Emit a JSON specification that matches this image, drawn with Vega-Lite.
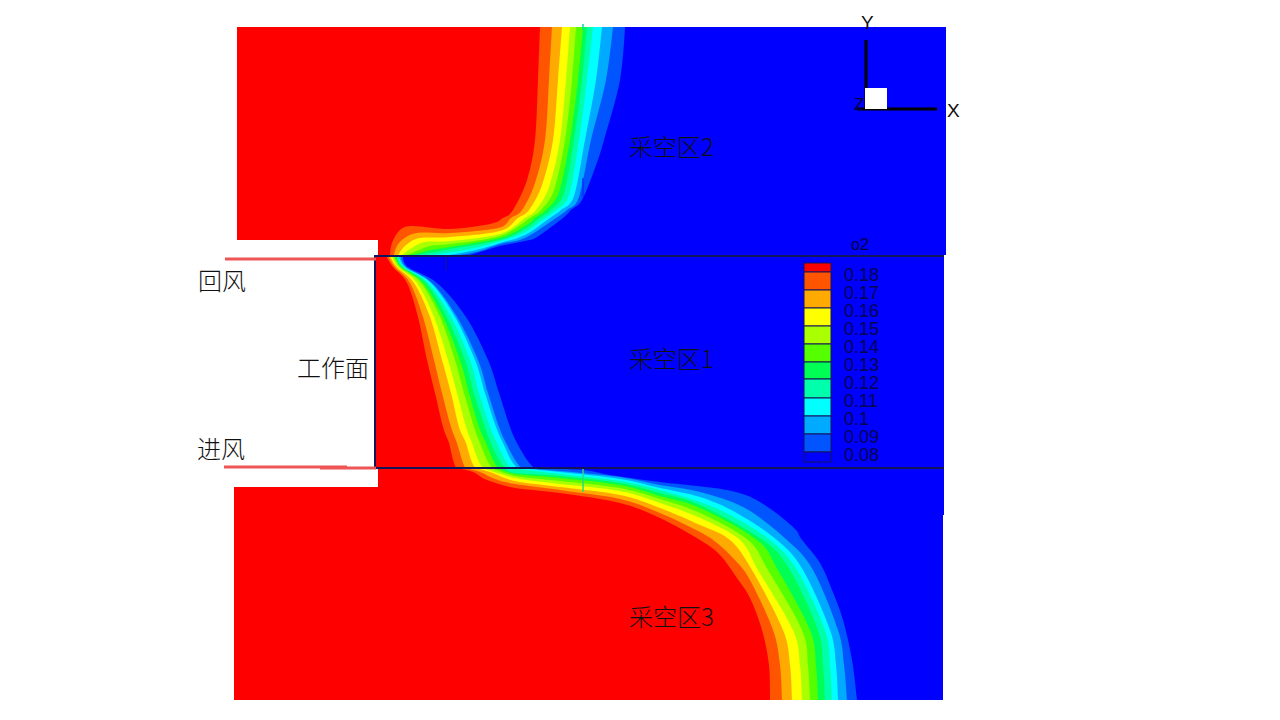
{"$schema":"https://vega.github.io/schema/vega-lite/v6.json","width":1280,"height":720,"padding":0,"autosize":{"type":"none"},"background":"white","config":{"view":{"stroke":null}},
"datasets":{
"outline":[
{"z":0,"o2":0.075,"x":237,"y":27},{"z":0,"o2":0.075,"x":946,"y":27},{"z":0,"o2":0.075,"x":946,"y":255},{"z":0,"o2":0.075,"x":944,"y":255},{"z":0,"o2":0.075,"x":944,"y":515},{"z":0,"o2":0.075,"x":943,"y":515},{"z":0,"o2":0.075,"x":943,"y":700},{"z":0,"o2":0.075,"x":234,"y":700},{"z":0,"o2":0.075,"x":234,"y":487},{"z":0,"o2":0.075,"x":378,"y":487},{"z":0,"o2":0.075,"x":378,"y":468},{"z":0,"o2":0.075,"x":376,"y":468},{"z":0,"o2":0.075,"x":376,"y":256},{"z":0,"o2":0.075,"x":378,"y":256},{"z":0,"o2":0.075,"x":378,"y":240},{"z":0,"o2":0.075,"x":237,"y":240}
],
"blocks":[
{"z":4,"o2":0.185,"x":237,"y":27},{"z":4,"o2":0.185,"x":380,"y":27},{"z":4,"o2":0.185,"x":380,"y":240},{"z":4,"o2":0.185,"x":237,"y":240},
{"z":5,"o2":0.185,"x":234,"y":487},{"z":5,"o2":0.185,"x":380,"y":487},{"z":5,"o2":0.185,"x":380,"y":700},{"z":5,"o2":0.185,"x":234,"y":700}
],
"blank":[
{"x":234,"x2":960,"y":700,"y2":720},{"x":300,"x2":377,"y":469,"y2":487},{"x":300,"x2":375,"y":256,"y2":468}
],
"bands":[
{"z":2,"o2":0.085,"x":625,"y":27},{"z":2,"o2":0.085,"x":620,"y":80},{"z":2,"o2":0.085,"x":604,"y":140},{"z":2,"o2":0.085,"x":595,"y":168},{"z":2,"o2":0.085,"x":582,"y":200},{"z":2,"o2":0.085,"x":571,"y":210},{"z":2,"o2":0.085,"x":563,"y":218},{"z":2,"o2":0.085,"x":537,"y":237},{"z":2,"o2":0.085,"x":525,"y":241},{"z":2,"o2":0.085,"x":500,"y":246},{"z":2,"o2":0.085,"x":477,"y":253},{"z":2,"o2":0.085,"x":470,"y":255},{"z":2,"o2":0.085,"x":470,"y":255},{"z":2,"o2":0.085,"x":378,"y":255},{"z":2,"o2":0.085,"x":378,"y":255},{"z":2,"o2":0.085,"x":378,"y":27},
{"z":2,"o2":0.095,"x":613,"y":27},{"z":2,"o2":0.095,"x":606,"y":80},{"z":2,"o2":0.095,"x":591,"y":140},{"z":2,"o2":0.095,"x":579,"y":197},{"z":2,"o2":0.095,"x":567,"y":210},{"z":2,"o2":0.095,"x":556,"y":218},{"z":2,"o2":0.095,"x":525,"y":238},{"z":2,"o2":0.095,"x":500,"y":244},{"z":2,"o2":0.095,"x":480,"y":251},{"z":2,"o2":0.095,"x":460,"y":255},{"z":2,"o2":0.095,"x":460,"y":255},{"z":2,"o2":0.095,"x":378,"y":255},{"z":2,"o2":0.095,"x":378,"y":255},{"z":2,"o2":0.095,"x":378,"y":27},
{"z":2,"o2":0.105,"x":602,"y":27},{"z":2,"o2":0.105,"x":596,"y":80},{"z":2,"o2":0.105,"x":585,"y":140},{"z":2,"o2":0.105,"x":574,"y":196},{"z":2,"o2":0.105,"x":561,"y":210},{"z":2,"o2":0.105,"x":550,"y":218},{"z":2,"o2":0.105,"x":525,"y":235},{"z":2,"o2":0.105,"x":500,"y":243},{"z":2,"o2":0.105,"x":480,"y":249},{"z":2,"o2":0.105,"x":450,"y":255},{"z":2,"o2":0.105,"x":450,"y":255},{"z":2,"o2":0.105,"x":378,"y":255},{"z":2,"o2":0.105,"x":378,"y":255},{"z":2,"o2":0.105,"x":378,"y":27},
{"z":2,"o2":0.115,"x":593,"y":27},{"z":2,"o2":0.115,"x":587,"y":80},{"z":2,"o2":0.115,"x":579,"y":140},{"z":2,"o2":0.115,"x":569,"y":195},{"z":2,"o2":0.115,"x":556,"y":210},{"z":2,"o2":0.115,"x":545,"y":218},{"z":2,"o2":0.115,"x":525,"y":232},{"z":2,"o2":0.115,"x":500,"y":241},{"z":2,"o2":0.115,"x":470,"y":249},{"z":2,"o2":0.115,"x":440,"y":254},{"z":2,"o2":0.115,"x":425,"y":255},{"z":2,"o2":0.115,"x":425,"y":255},{"z":2,"o2":0.115,"x":378,"y":255},{"z":2,"o2":0.115,"x":378,"y":255},{"z":2,"o2":0.115,"x":378,"y":27},
{"z":2,"o2":0.125,"x":587,"y":27},{"z":2,"o2":0.125,"x":582,"y":80},{"z":2,"o2":0.125,"x":574,"y":140},{"z":2,"o2":0.125,"x":564,"y":193},{"z":2,"o2":0.125,"x":551,"y":210},{"z":2,"o2":0.125,"x":540,"y":218},{"z":2,"o2":0.125,"x":525,"y":229},{"z":2,"o2":0.125,"x":500,"y":240},{"z":2,"o2":0.125,"x":450,"y":249},{"z":2,"o2":0.125,"x":435,"y":252},{"z":2,"o2":0.125,"x":415,"y":255},{"z":2,"o2":0.125,"x":415,"y":255},{"z":2,"o2":0.125,"x":378,"y":255},{"z":2,"o2":0.125,"x":378,"y":255},{"z":2,"o2":0.125,"x":378,"y":27},
{"z":2,"o2":0.135,"x":583,"y":27},{"z":2,"o2":0.135,"x":578,"y":80},{"z":2,"o2":0.135,"x":570,"y":140},{"z":2,"o2":0.135,"x":559,"y":192},{"z":2,"o2":0.135,"x":546,"y":210},{"z":2,"o2":0.135,"x":535,"y":218},{"z":2,"o2":0.135,"x":525,"y":226},{"z":2,"o2":0.135,"x":500,"y":238},{"z":2,"o2":0.135,"x":450,"y":247},{"z":2,"o2":0.135,"x":430,"y":250},{"z":2,"o2":0.135,"x":420,"y":253},{"z":2,"o2":0.135,"x":410,"y":255},{"z":2,"o2":0.135,"x":410,"y":255},{"z":2,"o2":0.135,"x":378,"y":255},{"z":2,"o2":0.135,"x":378,"y":255},{"z":2,"o2":0.135,"x":378,"y":27},
{"z":2,"o2":0.145,"x":576,"y":27},{"z":2,"o2":0.145,"x":572,"y":80},{"z":2,"o2":0.145,"x":565,"y":140},{"z":2,"o2":0.145,"x":554,"y":190},{"z":2,"o2":0.145,"x":541,"y":210},{"z":2,"o2":0.145,"x":530,"y":218},{"z":2,"o2":0.145,"x":500,"y":236},{"z":2,"o2":0.145,"x":450,"y":244},{"z":2,"o2":0.145,"x":430,"y":246},{"z":2,"o2":0.145,"x":414,"y":252},{"z":2,"o2":0.145,"x":406,"y":255},{"z":2,"o2":0.145,"x":406,"y":255},{"z":2,"o2":0.145,"x":378,"y":255},{"z":2,"o2":0.145,"x":378,"y":255},{"z":2,"o2":0.145,"x":378,"y":27},
{"z":2,"o2":0.155,"x":570,"y":27},{"z":2,"o2":0.155,"x":566,"y":80},{"z":2,"o2":0.155,"x":560,"y":140},{"z":2,"o2":0.155,"x":549,"y":187},{"z":2,"o2":0.155,"x":536,"y":210},{"z":2,"o2":0.155,"x":525,"y":218},{"z":2,"o2":0.155,"x":500,"y":234},{"z":2,"o2":0.155,"x":450,"y":241},{"z":2,"o2":0.155,"x":425,"y":242},{"z":2,"o2":0.155,"x":410,"y":249},{"z":2,"o2":0.155,"x":402,"y":255},{"z":2,"o2":0.155,"x":402,"y":255},{"z":2,"o2":0.155,"x":378,"y":255},{"z":2,"o2":0.155,"x":378,"y":255},{"z":2,"o2":0.155,"x":378,"y":27},
{"z":2,"o2":0.165,"x":562,"y":27},{"z":2,"o2":0.165,"x":558,"y":80},{"z":2,"o2":0.165,"x":553,"y":140},{"z":2,"o2":0.165,"x":542,"y":185},{"z":2,"o2":0.165,"x":529,"y":210},{"z":2,"o2":0.165,"x":518,"y":218},{"z":2,"o2":0.165,"x":500,"y":231},{"z":2,"o2":0.165,"x":450,"y":237},{"z":2,"o2":0.165,"x":420,"y":238},{"z":2,"o2":0.165,"x":406,"y":245},{"z":2,"o2":0.165,"x":398,"y":255},{"z":2,"o2":0.165,"x":398,"y":255},{"z":2,"o2":0.165,"x":378,"y":255},{"z":2,"o2":0.165,"x":378,"y":255},{"z":2,"o2":0.165,"x":378,"y":27},
{"z":2,"o2":0.175,"x":552,"y":27},{"z":2,"o2":0.175,"x":549,"y":80},{"z":2,"o2":0.175,"x":545,"y":140},{"z":2,"o2":0.175,"x":535,"y":183},{"z":2,"o2":0.175,"x":522,"y":210},{"z":2,"o2":0.175,"x":511,"y":218},{"z":2,"o2":0.175,"x":498,"y":228},{"z":2,"o2":0.175,"x":450,"y":233},{"z":2,"o2":0.175,"x":417,"y":233},{"z":2,"o2":0.175,"x":402,"y":240},{"z":2,"o2":0.175,"x":396,"y":248},{"z":2,"o2":0.175,"x":394,"y":255},{"z":2,"o2":0.175,"x":394,"y":255},{"z":2,"o2":0.175,"x":378,"y":255},{"z":2,"o2":0.175,"x":378,"y":255},{"z":2,"o2":0.175,"x":378,"y":27},
{"z":2,"o2":0.185,"x":540,"y":27},{"z":2,"o2":0.185,"x":538,"y":80},{"z":2,"o2":0.185,"x":535,"y":140},{"z":2,"o2":0.185,"x":527,"y":180},{"z":2,"o2":0.185,"x":513,"y":210},{"z":2,"o2":0.185,"x":503,"y":218},{"z":2,"o2":0.185,"x":490,"y":224},{"z":2,"o2":0.185,"x":450,"y":229},{"z":2,"o2":0.185,"x":413,"y":226},{"z":2,"o2":0.185,"x":400,"y":230},{"z":2,"o2":0.185,"x":392,"y":243},{"z":2,"o2":0.185,"x":390,"y":255},{"z":2,"o2":0.185,"x":390,"y":255},{"z":2,"o2":0.185,"x":378,"y":255},{"z":2,"o2":0.185,"x":378,"y":255},{"z":2,"o2":0.185,"x":378,"y":27},
{"z":1,"o2":0.085,"x":403,"y":256},{"z":1,"o2":0.085,"x":408,"y":267},{"z":1,"o2":0.085,"x":437,"y":283},{"z":1,"o2":0.085,"x":466,"y":317},{"z":1,"o2":0.085,"x":488,"y":360},{"z":1,"o2":0.085,"x":499,"y":393},{"z":1,"o2":0.085,"x":510,"y":427},{"z":1,"o2":0.085,"x":517,"y":443},{"z":1,"o2":0.085,"x":527,"y":460},{"z":1,"o2":0.085,"x":534,"y":468},{"z":1,"o2":0.085,"x":534,"y":468},{"z":1,"o2":0.085,"x":376,"y":468},{"z":1,"o2":0.085,"x":376,"y":468},{"z":1,"o2":0.085,"x":376,"y":256},
{"z":1,"o2":0.095,"x":401,"y":256},{"z":1,"o2":0.095,"x":406,"y":267},{"z":1,"o2":0.095,"x":432,"y":283},{"z":1,"o2":0.095,"x":457,"y":317},{"z":1,"o2":0.095,"x":478,"y":360},{"z":1,"o2":0.095,"x":488,"y":393},{"z":1,"o2":0.095,"x":499,"y":427},{"z":1,"o2":0.095,"x":506,"y":443},{"z":1,"o2":0.095,"x":515,"y":460},{"z":1,"o2":0.095,"x":521,"y":468},{"z":1,"o2":0.095,"x":521,"y":468},{"z":1,"o2":0.095,"x":376,"y":468},{"z":1,"o2":0.095,"x":376,"y":468},{"z":1,"o2":0.095,"x":376,"y":256},
{"z":1,"o2":0.105,"x":399,"y":256},{"z":1,"o2":0.105,"x":405,"y":267},{"z":1,"o2":0.105,"x":431,"y":283},{"z":1,"o2":0.105,"x":455,"y":317},{"z":1,"o2":0.105,"x":475,"y":360},{"z":1,"o2":0.105,"x":485,"y":393},{"z":1,"o2":0.105,"x":496,"y":427},{"z":1,"o2":0.105,"x":503,"y":443},{"z":1,"o2":0.105,"x":511,"y":460},{"z":1,"o2":0.105,"x":517,"y":468},{"z":1,"o2":0.105,"x":517,"y":468},{"z":1,"o2":0.105,"x":376,"y":468},{"z":1,"o2":0.105,"x":376,"y":468},{"z":1,"o2":0.105,"x":376,"y":256},
{"z":1,"o2":0.115,"x":398,"y":256},{"z":1,"o2":0.115,"x":404,"y":267},{"z":1,"o2":0.115,"x":428,"y":283},{"z":1,"o2":0.115,"x":451,"y":317},{"z":1,"o2":0.115,"x":470,"y":360},{"z":1,"o2":0.115,"x":479,"y":393},{"z":1,"o2":0.115,"x":490,"y":427},{"z":1,"o2":0.115,"x":497,"y":443},{"z":1,"o2":0.115,"x":505,"y":460},{"z":1,"o2":0.115,"x":511,"y":468},{"z":1,"o2":0.115,"x":511,"y":468},{"z":1,"o2":0.115,"x":376,"y":468},{"z":1,"o2":0.115,"x":376,"y":468},{"z":1,"o2":0.115,"x":376,"y":256},
{"z":1,"o2":0.125,"x":397,"y":256},{"z":1,"o2":0.125,"x":402,"y":267},{"z":1,"o2":0.125,"x":426,"y":283},{"z":1,"o2":0.125,"x":447,"y":317},{"z":1,"o2":0.125,"x":465,"y":360},{"z":1,"o2":0.125,"x":474,"y":393},{"z":1,"o2":0.125,"x":485,"y":427},{"z":1,"o2":0.125,"x":491,"y":443},{"z":1,"o2":0.125,"x":499,"y":460},{"z":1,"o2":0.125,"x":505,"y":468},{"z":1,"o2":0.125,"x":505,"y":468},{"z":1,"o2":0.125,"x":376,"y":468},{"z":1,"o2":0.125,"x":376,"y":468},{"z":1,"o2":0.125,"x":376,"y":256},
{"z":1,"o2":0.135,"x":395,"y":256},{"z":1,"o2":0.135,"x":401,"y":267},{"z":1,"o2":0.135,"x":423,"y":283},{"z":1,"o2":0.135,"x":443,"y":317},{"z":1,"o2":0.135,"x":460,"y":360},{"z":1,"o2":0.135,"x":469,"y":393},{"z":1,"o2":0.135,"x":479,"y":427},{"z":1,"o2":0.135,"x":486,"y":443},{"z":1,"o2":0.135,"x":493,"y":460},{"z":1,"o2":0.135,"x":498,"y":468},{"z":1,"o2":0.135,"x":498,"y":468},{"z":1,"o2":0.135,"x":376,"y":468},{"z":1,"o2":0.135,"x":376,"y":468},{"z":1,"o2":0.135,"x":376,"y":256},
{"z":1,"o2":0.145,"x":394,"y":256},{"z":1,"o2":0.145,"x":400,"y":267},{"z":1,"o2":0.145,"x":421,"y":283},{"z":1,"o2":0.145,"x":440,"y":317},{"z":1,"o2":0.145,"x":455,"y":360},{"z":1,"o2":0.145,"x":464,"y":393},{"z":1,"o2":0.145,"x":474,"y":427},{"z":1,"o2":0.145,"x":480,"y":443},{"z":1,"o2":0.145,"x":487,"y":460},{"z":1,"o2":0.145,"x":492,"y":468},{"z":1,"o2":0.145,"x":492,"y":468},{"z":1,"o2":0.145,"x":376,"y":468},{"z":1,"o2":0.145,"x":376,"y":468},{"z":1,"o2":0.145,"x":376,"y":256},
{"z":1,"o2":0.155,"x":392,"y":256},{"z":1,"o2":0.155,"x":398,"y":267},{"z":1,"o2":0.155,"x":417,"y":283},{"z":1,"o2":0.155,"x":434,"y":317},{"z":1,"o2":0.155,"x":448,"y":360},{"z":1,"o2":0.155,"x":457,"y":393},{"z":1,"o2":0.155,"x":466,"y":427},{"z":1,"o2":0.155,"x":472,"y":443},{"z":1,"o2":0.155,"x":478,"y":460},{"z":1,"o2":0.155,"x":483,"y":468},{"z":1,"o2":0.155,"x":483,"y":468},{"z":1,"o2":0.155,"x":376,"y":468},{"z":1,"o2":0.155,"x":376,"y":468},{"z":1,"o2":0.155,"x":376,"y":256},
{"z":1,"o2":0.165,"x":390,"y":256},{"z":1,"o2":0.165,"x":397,"y":267},{"z":1,"o2":0.165,"x":414,"y":283},{"z":1,"o2":0.165,"x":430,"y":317},{"z":1,"o2":0.165,"x":442,"y":360},{"z":1,"o2":0.165,"x":451,"y":393},{"z":1,"o2":0.165,"x":459,"y":427},{"z":1,"o2":0.165,"x":466,"y":443},{"z":1,"o2":0.165,"x":471,"y":460},{"z":1,"o2":0.165,"x":475,"y":468},{"z":1,"o2":0.165,"x":475,"y":468},{"z":1,"o2":0.165,"x":376,"y":468},{"z":1,"o2":0.165,"x":376,"y":468},{"z":1,"o2":0.165,"x":376,"y":256},
{"z":1,"o2":0.175,"x":388,"y":256},{"z":1,"o2":0.175,"x":395,"y":267},{"z":1,"o2":0.175,"x":410,"y":283},{"z":1,"o2":0.175,"x":423,"y":317},{"z":1,"o2":0.175,"x":434,"y":360},{"z":1,"o2":0.175,"x":442,"y":393},{"z":1,"o2":0.175,"x":451,"y":427},{"z":1,"o2":0.175,"x":457,"y":443},{"z":1,"o2":0.175,"x":462,"y":460},{"z":1,"o2":0.175,"x":465,"y":468},{"z":1,"o2":0.175,"x":465,"y":468},{"z":1,"o2":0.175,"x":376,"y":468},{"z":1,"o2":0.175,"x":376,"y":468},{"z":1,"o2":0.175,"x":376,"y":256},
{"z":1,"o2":0.185,"x":386,"y":256},{"z":1,"o2":0.185,"x":393,"y":267},{"z":1,"o2":0.185,"x":407,"y":283},{"z":1,"o2":0.185,"x":418,"y":317},{"z":1,"o2":0.185,"x":427,"y":360},{"z":1,"o2":0.185,"x":435,"y":393},{"z":1,"o2":0.185,"x":443,"y":427},{"z":1,"o2":0.185,"x":449,"y":443},{"z":1,"o2":0.185,"x":453,"y":460},{"z":1,"o2":0.185,"x":456,"y":468},{"z":1,"o2":0.185,"x":456,"y":468},{"z":1,"o2":0.185,"x":376,"y":468},{"z":1,"o2":0.185,"x":376,"y":468},{"z":1,"o2":0.185,"x":376,"y":256},
{"z":3,"o2":0.085,"x":534,"y":468},{"z":3,"o2":0.085,"x":583,"y":470},{"z":3,"o2":0.085,"x":610,"y":475},{"z":3,"o2":0.085,"x":660,"y":482},{"z":3,"o2":0.085,"x":727,"y":490},{"z":3,"o2":0.085,"x":760,"y":502},{"z":3,"o2":0.085,"x":793,"y":527},{"z":3,"o2":0.085,"x":802,"y":540},{"z":3,"o2":0.085,"x":820,"y":563},{"z":3,"o2":0.085,"x":832,"y":590},{"z":3,"o2":0.085,"x":843,"y":620},{"z":3,"o2":0.085,"x":852,"y":660},{"z":3,"o2":0.085,"x":857,"y":700},{"z":3,"o2":0.085,"x":857,"y":700},{"z":3,"o2":0.085,"x":378,"y":700},{"z":3,"o2":0.085,"x":378,"y":700},{"z":3,"o2":0.085,"x":378,"y":468},
{"z":3,"o2":0.095,"x":521,"y":468},{"z":3,"o2":0.095,"x":560,"y":471},{"z":3,"o2":0.095,"x":620,"y":477},{"z":3,"o2":0.095,"x":660,"y":485},{"z":3,"o2":0.095,"x":700,"y":492},{"z":3,"o2":0.095,"x":745,"y":508},{"z":3,"o2":0.095,"x":787,"y":540},{"z":3,"o2":0.095,"x":813,"y":570},{"z":3,"o2":0.095,"x":838,"y":630},{"z":3,"o2":0.095,"x":844,"y":665},{"z":3,"o2":0.095,"x":847,"y":700},{"z":3,"o2":0.095,"x":847,"y":700},{"z":3,"o2":0.095,"x":378,"y":700},{"z":3,"o2":0.095,"x":378,"y":700},{"z":3,"o2":0.095,"x":378,"y":468},
{"z":3,"o2":0.105,"x":517,"y":468},{"z":3,"o2":0.105,"x":560,"y":472},{"z":3,"o2":0.105,"x":620,"y":479},{"z":3,"o2":0.105,"x":660,"y":488},{"z":3,"o2":0.105,"x":700,"y":497},{"z":3,"o2":0.105,"x":735,"y":512},{"z":3,"o2":0.105,"x":777,"y":540},{"z":3,"o2":0.105,"x":803,"y":570},{"z":3,"o2":0.105,"x":830,"y":630},{"z":3,"o2":0.105,"x":836,"y":665},{"z":3,"o2":0.105,"x":838,"y":700},{"z":3,"o2":0.105,"x":838,"y":700},{"z":3,"o2":0.105,"x":378,"y":700},{"z":3,"o2":0.105,"x":378,"y":700},{"z":3,"o2":0.105,"x":378,"y":468},
{"z":3,"o2":0.115,"x":511,"y":468},{"z":3,"o2":0.115,"x":560,"y":474},{"z":3,"o2":0.115,"x":620,"y":481},{"z":3,"o2":0.115,"x":660,"y":490},{"z":3,"o2":0.115,"x":700,"y":502},{"z":3,"o2":0.115,"x":730,"y":515},{"z":3,"o2":0.115,"x":770,"y":540},{"z":3,"o2":0.115,"x":797,"y":570},{"z":3,"o2":0.115,"x":825,"y":630},{"z":3,"o2":0.115,"x":830,"y":665},{"z":3,"o2":0.115,"x":832,"y":700},{"z":3,"o2":0.115,"x":832,"y":700},{"z":3,"o2":0.115,"x":378,"y":700},{"z":3,"o2":0.115,"x":378,"y":700},{"z":3,"o2":0.115,"x":378,"y":468},
{"z":3,"o2":0.125,"x":505,"y":468},{"z":3,"o2":0.125,"x":515,"y":473},{"z":3,"o2":0.125,"x":560,"y":476},{"z":3,"o2":0.125,"x":620,"y":483},{"z":3,"o2":0.125,"x":660,"y":493},{"z":3,"o2":0.125,"x":700,"y":505},{"z":3,"o2":0.125,"x":763,"y":540},{"z":3,"o2":0.125,"x":790,"y":570},{"z":3,"o2":0.125,"x":818,"y":630},{"z":3,"o2":0.125,"x":823,"y":665},{"z":3,"o2":0.125,"x":825,"y":700},{"z":3,"o2":0.125,"x":825,"y":700},{"z":3,"o2":0.125,"x":378,"y":700},{"z":3,"o2":0.125,"x":378,"y":700},{"z":3,"o2":0.125,"x":378,"y":468},
{"z":3,"o2":0.135,"x":498,"y":468},{"z":3,"o2":0.135,"x":515,"y":474},{"z":3,"o2":0.135,"x":560,"y":478},{"z":3,"o2":0.135,"x":620,"y":485},{"z":3,"o2":0.135,"x":660,"y":496},{"z":3,"o2":0.135,"x":700,"y":508},{"z":3,"o2":0.135,"x":757,"y":540},{"z":3,"o2":0.135,"x":778,"y":570},{"z":3,"o2":0.135,"x":810,"y":630},{"z":3,"o2":0.135,"x":816,"y":665},{"z":3,"o2":0.135,"x":818,"y":700},{"z":3,"o2":0.135,"x":818,"y":700},{"z":3,"o2":0.135,"x":378,"y":700},{"z":3,"o2":0.135,"x":378,"y":700},{"z":3,"o2":0.135,"x":378,"y":468},
{"z":3,"o2":0.145,"x":492,"y":468},{"z":3,"o2":0.145,"x":515,"y":476},{"z":3,"o2":0.145,"x":560,"y":481},{"z":3,"o2":0.145,"x":620,"y":488},{"z":3,"o2":0.145,"x":660,"y":499},{"z":3,"o2":0.145,"x":700,"y":513},{"z":3,"o2":0.145,"x":748,"y":540},{"z":3,"o2":0.145,"x":768,"y":570},{"z":3,"o2":0.145,"x":802,"y":630},{"z":3,"o2":0.145,"x":808,"y":665},{"z":3,"o2":0.145,"x":810,"y":700},{"z":3,"o2":0.145,"x":810,"y":700},{"z":3,"o2":0.145,"x":378,"y":700},{"z":3,"o2":0.145,"x":378,"y":700},{"z":3,"o2":0.145,"x":378,"y":468},
{"z":3,"o2":0.155,"x":483,"y":468},{"z":3,"o2":0.155,"x":515,"y":478},{"z":3,"o2":0.155,"x":560,"y":484},{"z":3,"o2":0.155,"x":620,"y":491},{"z":3,"o2":0.155,"x":660,"y":503},{"z":3,"o2":0.155,"x":700,"y":518},{"z":3,"o2":0.155,"x":740,"y":540},{"z":3,"o2":0.155,"x":758,"y":570},{"z":3,"o2":0.155,"x":793,"y":630},{"z":3,"o2":0.155,"x":800,"y":665},{"z":3,"o2":0.155,"x":802,"y":700},{"z":3,"o2":0.155,"x":802,"y":700},{"z":3,"o2":0.155,"x":378,"y":700},{"z":3,"o2":0.155,"x":378,"y":700},{"z":3,"o2":0.155,"x":378,"y":468},
{"z":3,"o2":0.165,"x":475,"y":468},{"z":3,"o2":0.165,"x":490,"y":472},{"z":3,"o2":0.165,"x":515,"y":481},{"z":3,"o2":0.165,"x":560,"y":487},{"z":3,"o2":0.165,"x":620,"y":495},{"z":3,"o2":0.165,"x":660,"y":508},{"z":3,"o2":0.165,"x":700,"y":525},{"z":3,"o2":0.165,"x":730,"y":540},{"z":3,"o2":0.165,"x":752,"y":570},{"z":3,"o2":0.165,"x":783,"y":630},{"z":3,"o2":0.165,"x":790,"y":665},{"z":3,"o2":0.165,"x":792,"y":700},{"z":3,"o2":0.165,"x":792,"y":700},{"z":3,"o2":0.165,"x":378,"y":700},{"z":3,"o2":0.165,"x":378,"y":700},{"z":3,"o2":0.165,"x":378,"y":468},
{"z":3,"o2":0.175,"x":465,"y":468},{"z":3,"o2":0.175,"x":480,"y":472},{"z":3,"o2":0.175,"x":495,"y":479},{"z":3,"o2":0.175,"x":515,"y":484},{"z":3,"o2":0.175,"x":560,"y":490},{"z":3,"o2":0.175,"x":620,"y":499},{"z":3,"o2":0.175,"x":660,"y":513},{"z":3,"o2":0.175,"x":700,"y":532},{"z":3,"o2":0.175,"x":717,"y":543},{"z":3,"o2":0.175,"x":735,"y":560},{"z":3,"o2":0.175,"x":750,"y":580},{"z":3,"o2":0.175,"x":773,"y":630},{"z":3,"o2":0.175,"x":780,"y":665},{"z":3,"o2":0.175,"x":782,"y":700},{"z":3,"o2":0.175,"x":782,"y":700},{"z":3,"o2":0.175,"x":378,"y":700},{"z":3,"o2":0.175,"x":378,"y":700},{"z":3,"o2":0.175,"x":378,"y":468},
{"z":3,"o2":0.185,"x":456,"y":468},{"z":3,"o2":0.185,"x":473,"y":472},{"z":3,"o2":0.185,"x":487,"y":480},{"z":3,"o2":0.185,"x":515,"y":488},{"z":3,"o2":0.185,"x":560,"y":493},{"z":3,"o2":0.185,"x":620,"y":503},{"z":3,"o2":0.185,"x":660,"y":518},{"z":3,"o2":0.185,"x":700,"y":540},{"z":3,"o2":0.185,"x":720,"y":555},{"z":3,"o2":0.185,"x":737,"y":578},{"z":3,"o2":0.185,"x":750,"y":598},{"z":3,"o2":0.185,"x":762,"y":630},{"z":3,"o2":0.185,"x":769,"y":665},{"z":3,"o2":0.185,"x":770,"y":700},{"z":3,"o2":0.185,"x":770,"y":700},{"z":3,"o2":0.185,"x":378,"y":700},{"z":3,"o2":0.185,"x":378,"y":700},{"z":3,"o2":0.185,"x":378,"y":468}
],
"key":[
{"o2":0.185,"x":804,"x2":831,"y":263,"y2":272},{"o2":0.175,"x":804,"x2":831,"y":272,"y2":290},{"o2":0.165,"x":804,"x2":831,"y":290,"y2":308},{"o2":0.155,"x":804,"x2":831,"y":308,"y2":326},{"o2":0.145,"x":804,"x2":831,"y":326,"y2":344},{"o2":0.135,"x":804,"x2":831,"y":344,"y2":362},{"o2":0.125,"x":804,"x2":831,"y":362,"y2":379},{"o2":0.115,"x":804,"x2":831,"y":379,"y2":398},{"o2":0.105,"x":804,"x2":831,"y":398,"y2":416},{"o2":0.095,"x":804,"x2":831,"y":416,"y2":434},{"o2":0.085,"x":804,"x2":831,"y":434,"y2":452},{"o2":0.075,"x":804,"x2":831,"y":452,"y2":462}
],
"keyLabels":[
{"t":"0.18","x":844,"y":276},{"t":"0.17","x":844,"y":294},{"t":"0.16","x":844,"y":312},{"t":"0.15","x":844,"y":330},{"t":"0.14","x":844,"y":348},{"t":"0.13","x":844,"y":366},{"t":"0.12","x":844,"y":384},{"t":"0.11","x":844,"y":402},{"t":"0.1","x":844,"y":420},{"t":"0.09","x":844,"y":438},{"t":"0.08","x":844,"y":456}
],
"frame":[
{"x":375,"x2":375,"y":255,"y2":468},{"x":375,"x2":944,"y":256,"y2":256},{"x":375,"x2":944,"y":468,"y2":468}
],
"airways":[
{"x":225,"x2":376,"y":259,"y2":259},{"x":224,"x2":347,"y":467,"y2":467},{"x":320,"x2":376,"y":468,"y2":468}
],
"seams":[
{"s":"a","x":583,"y":469,"y2":492},{"s":"b","x":583,"y":24,"y2":30},{"s":"c","x":583,"y":178,"y2":197},{"s":"d","x":446,"y":257,"y2":270}
],
"triad":[
{"x":866,"x2":866,"y":40,"y2":110},{"x":857,"x2":937,"y":109,"y2":109}
],
"square":[{"x":865,"x2":887,"y":88,"y2":109}],
"zones":[
{"t":"采空区2","x":629,"y":149},{"t":"采空区1","x":629,"y":361},{"t":"采空区3","x":629,"y":619},{"t":"回风","x":198,"y":283},{"t":"工作面","x":297,"y":370},{"t":"进风","x":197,"y":451}
],
"axisNames":[{"t":"Y","x":861,"y":23},{"t":"X","x":947,"y":111}]
},
"encoding":{
"x":{"field":"x","type":"quantitative","scale":{"domain":[0,1280],"nice":false,"zero":false},"axis":null},
"y":{"field":"y","type":"quantitative","scale":{"domain":[720,0],"nice":false,"zero":false},"axis":null}
},
"layer":[
{"data":{"name":"outline"},"mark":{"type":"line","filled":true,"strokeWidth":0,"order":null},"encoding":{"detail":{"field":"z"},"fill":{"field":"o2","type":"ordinal","legend":null,"scale":{"domain":[0.185,0.175,0.165,0.155,0.145,0.135,0.125,0.115,0.105,0.095,0.085,0.075],"range":["#ff0000","#ff5500","#ffaa00","#ffff00","#aaff00","#55ff00","#00ff55","#00ffaa","#00ffff","#00aaff","#0055ff","#0000ff"]}}}},
{"data":{"name":"bands"},"mark":{"type":"line","filled":true,"strokeWidth":0,"order":null,"interpolate":"cardinal"},"encoding":{"detail":{"field":"z"},"fill":{"field":"o2","type":"ordinal","legend":null,"scale":{"domain":[0.185,0.175,0.165,0.155,0.145,0.135,0.125,0.115,0.105,0.095,0.085,0.075],"range":["#ff0000","#ff5500","#ffaa00","#ffff00","#aaff00","#55ff00","#00ff55","#00ffaa","#00ffff","#00aaff","#0055ff","#0000ff"]}}}},
{"data":{"name":"blank"},"mark":{"type":"rect","fill":"#ffffff"},"encoding":{"x2":{"field":"x2"},"y2":{"field":"y2"}}},
{"data":{"name":"blocks"},"mark":{"type":"line","filled":true,"strokeWidth":0,"order":null},"encoding":{"detail":{"field":"z"},"fill":{"field":"o2","type":"ordinal","legend":null,"scale":{"domain":[0.185,0.175,0.165,0.155,0.145,0.135,0.125,0.115,0.105,0.095,0.085,0.075],"range":["#ff0000","#ff5500","#ffaa00","#ffff00","#aaff00","#55ff00","#00ff55","#00ffaa","#00ffff","#00aaff","#0055ff","#0000ff"]}}}},
{"data":{"name":"seams"},"mark":{"type":"rule","strokeWidth":1.5},"encoding":{"y2":{"field":"y2"},"color":{"field":"s","type":"nominal","legend":null,"scale":{"domain":["a","b","c","d"],"range":["#22dd88","#00e0a0","#0033ff","#1010a0"]}}}},
{"data":{"name":"frame"},"mark":{"type":"rule","color":"#14145a","strokeWidth":2},"encoding":{"x2":{"field":"x2"},"y2":{"field":"y2"}}},
{"data":{"name":"airways"},"mark":{"type":"rule","color":"#ee5555","strokeWidth":3},"encoding":{"x2":{"field":"x2"},"y2":{"field":"y2"}}},
{"data":{"name":"key"},"mark":{"type":"rect","stroke":"#14145a","strokeWidth":1},"encoding":{"x2":{"field":"x2"},"y2":{"field":"y2"},"fill":{"field":"o2","type":"ordinal","legend":null,"scale":{"domain":[0.185,0.175,0.165,0.155,0.145,0.135,0.125,0.115,0.105,0.095,0.085,0.075],"range":["#ff0000","#ff5500","#ffaa00","#ffff00","#aaff00","#55ff00","#00ff55","#00ffaa","#00ffff","#00aaff","#0055ff","#0000ff"]}}}},
{"data":{"name":"keyLabels"},"mark":{"type":"text","align":"left","baseline":"middle","font":"Liberation Sans","fontSize":18,"color":"#050550"},"encoding":{"text":{"field":"t"}}},
{"data":{"values":[{"t":"o2","x":851,"y":245}]},"mark":{"type":"text","align":"left","baseline":"middle","font":"Liberation Sans","fontSize":16,"color":"#000040"},"encoding":{"text":{"field":"t"}}},
{"data":{"name":"triad"},"mark":{"type":"rule","color":"#000000","strokeWidth":3},"encoding":{"x2":{"field":"x2"},"y2":{"field":"y2"}}},
{"data":{"name":"square"},"mark":{"type":"rect","fill":"#ffffff"},"encoding":{"x2":{"field":"x2"},"y2":{"field":"y2"}}},
{"data":{"values":[{"t":"Z","x":854,"y":105}]},"mark":{"type":"text","align":"left","baseline":"middle","font":"Liberation Sans","fontSize":17,"color":"#000040"},"encoding":{"text":{"field":"t"}}},
{"data":{"name":"axisNames"},"mark":{"type":"text","align":"left","baseline":"middle","font":"Liberation Sans","fontSize":19,"color":"#111111"},"encoding":{"text":{"field":"t"}}},
{"data":{"name":"zones"},"mark":{"type":"text","align":"left","baseline":"middle","font":"Noto Sans CJK SC","fontSize":24,"fontWeight":300,"color":"#111111"},"encoding":{"text":{"field":"t"}}}
]}
